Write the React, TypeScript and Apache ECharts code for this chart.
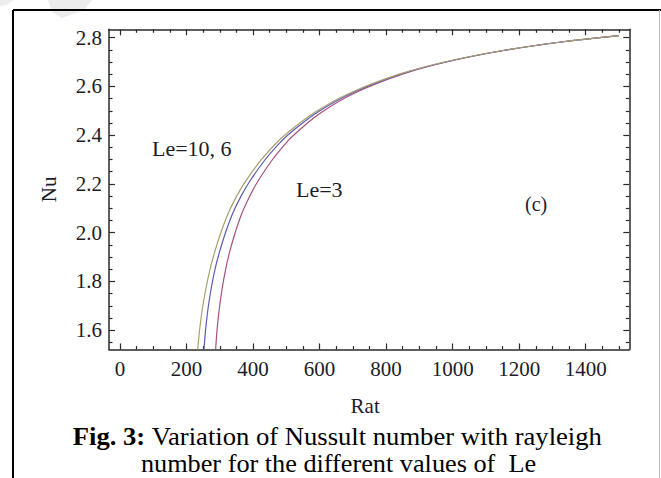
import React, { useEffect, useRef } from "react";
import * as echarts from "echarts";

// Nu sample levels shared by the three curves
const nuLevels = [1.521, 1.601, 1.683, 1.765, 1.85, 1.918, 2.002, 2.082, 2.152, 2.207, 2.295, 2.372, 2.407, 2.494, 2.573, 2.651, 2.702, 2.747, 2.781, 2.808];
// Rat at each Nu level, Le = 10 (olive)
const ratLe10 = [233.6, 239.3, 247.1, 257.4, 270.6, 284.1, 303.7, 326.2, 351.8, 375.8, 422.4, 473, 501, 586, 692, 842, 982, 1150, 1320, 1500];
// Rat at each Nu level, Le = 6 (blue)
const ratLe6 = [252.6, 257.3, 264.1, 273.4, 285.6, 298.6, 317.7, 339.7, 364.8, 388.3, 433.9, 483, 510, 593.5, 698, 846, 985, 1152, 1321, 1500];
// Rat at each Nu level, Le = 3 (maroon)
const ratLe3 = [287.6, 291.8, 298.1, 306.4, 317.6, 329.1, 346.7, 367.2, 390.8, 412.8, 455.9, 502, 527.5, 606, 706, 851, 988, 1153.5, 1321.5, 1500];

const xMajorTicks = [0, 200, 400, 600, 800, 1000, 1200, 1400];
const xMinorTicks = [50, 100, 150, 250, 300, 350, 450, 500, 550, 650, 700, 750, 850, 900, 950, 1050, 1100, 1150, 1250, 1300, 1350, 1450, 1500];
const yMajorTicks = [1.6, 1.8, 2.0, 2.2, 2.4, 2.6, 2.8];
const yMinorTicks = [1.55, 1.65, 1.7, 1.75, 1.85, 1.9, 1.95, 2.05, 2.1, 2.15, 2.25, 2.3, 2.35, 2.45, 2.5, 2.55, 2.65, 2.7, 2.75];

const X_MIN = -33;
const X_MAX = 1531;
const Y_MIN = 1.521;
const Y_MAX = 2.834;

const FONT = "'Liberation Serif', 'Times New Roman', serif";
const TXT = "#1c1c28";
const AXIS = "#2a2a2a";

const zip = (xs: number[], ys: number[]) => xs.map((x, i) => [x, ys[i]]);

export default function App() {
  const ref = useRef<HTMLDivElement>(null);
  useEffect(() => {
    if (!ref.current) return;
    const chart = echarts.init(ref.current, null, { renderer: "svg" });
    const xBase = (position: string, major: boolean, labels: boolean) => ({
      type: "value",
      position,
      min: X_MIN,
      max: X_MAX,
      splitLine: { show: false },
      axisLine: { show: major, onZero: false, lineStyle: { color: AXIS, width: 1.5 } },
      axisTick: {
        show: true,
        inside: true,
        length: major ? 6 : 3.5,
        customValues: major ? xMajorTicks : xMinorTicks,
        lineStyle: { color: AXIS, width: 1.2 },
      },
      axisLabel: labels
        ? {
            show: true,
            customValues: xMajorTicks,
            margin: 9,
            fontFamily: FONT,
            fontSize: 21,
            color: TXT,
            formatter: (v: number) => String(Math.round(v)),
          }
        : { show: false },
    });
    const yBase = (position: string, major: boolean, labels: boolean) => ({
      type: "value",
      position,
      min: Y_MIN,
      max: Y_MAX,
      splitLine: { show: false },
      axisLine: { show: major, onZero: false, lineStyle: { color: AXIS, width: 1.5 } },
      axisTick: {
        show: true,
        inside: true,
        length: major ? 6 : 3.5,
        customValues: major ? yMajorTicks : yMinorTicks,
        lineStyle: { color: AXIS, width: 1.2 },
      },
      axisLabel: labels
        ? {
            show: true,
            customValues: yMajorTicks,
            margin: 7,
            fontFamily: FONT,
            fontSize: 21,
            color: TXT,
            formatter: (v: number) => v.toFixed(1),
          }
        : { show: false },
    });
    const xAxes: any[] = [
      {
        ...xBase("bottom", true, true),
        name: "Rat",
        nameLocation: "middle",
        nameGap: 46,
        nameTextStyle: { fontFamily: FONT, fontSize: 21, color: TXT, padding: [0, 8, 0, 0] },
      },
      xBase("bottom", false, false),
      xBase("top", true, false),
      xBase("top", false, false),
    ];
    const yAxes: any[] = [
      {
        ...yBase("left", true, true),
        name: "Nu",
        nameLocation: "middle",
        nameGap: 50,
        nameTextStyle: { fontFamily: FONT, fontSize: 21, color: TXT, fontWeight: "normal" },
      },
      yBase("left", false, false),
      yBase("right", true, false),
      yBase("right", false, false),
    ];
    const mk = (name: string, xs: number[], color: string) => ({
      type: "line",
      name,
      xAxisIndex: 0,
      yAxisIndex: 0,
      data: zip(xs, nuLevels),
      showSymbol: false,
      symbol: "none",
      smooth: 0.4,
      clip: true,
      lineStyle: { color, width: 1.2 },
      z: 3,
    });
    chart.setOption({
      animation: false,
      backgroundColor: "#ffffff",
      grid: { left: 109, top: 29.3, right: 31.7, bottom: 128.5, containLabel: false },
      xAxis: xAxes,
      yAxis: yAxes,
      series: [
        mk("Le=3", ratLe3, "#a8507a"),
        mk("Le=6", ratLe6, "#5c5cb4"),
        mk("Le=10", ratLe10, "#aaa06c"),
      ],
      graphic: [
        { type: "polygon", shape: { points: [[0, 0], [14, 0], [6, 5], [0, 6]] }, style: { fill: "#ececec" }, z: -1 },
        { type: "polygon", shape: { points: [[48, 0], [92, 0], [84, 10], [62, 18], [52, 12]] }, style: { fill: "#ececec" }, z: -1 },
        { type: "line", shape: { x1: 13, y1: 10, x2: 661, y2: 10 }, style: { stroke: "#000", lineWidth: 2 } },
        { type: "line", shape: { x1: 13, y1: 10, x2: 13, y2: 478 }, style: { stroke: "#000", lineWidth: 2 } },
        { type: "line", shape: { x1: 659.5, y1: 10, x2: 659.5, y2: 478 }, style: { stroke: "#b8b8b8", lineWidth: 1 } },
        {
          type: "text",
          left: 152,
          top: 137,
          style: { text: "Le=10, 6", fontFamily: FONT, fontSize: 22, fill: TXT },
        },
        {
          type: "text",
          left: 296,
          top: 178,
          style: { text: "Le=3", fontFamily: FONT, fontSize: 22, fill: TXT },
        },
        {
          type: "text",
          left: 525,
          top: 194,
          style: { text: "(c)", fontFamily: FONT, fontSize: 20, fill: TXT },
        },
        {
          type: "text",
          x: 337.5,
          y: 437,
          scaleX: 1.065,
          style: {
            text: "{b|Fig. 3:} Variation of Nussult number with rayleigh",
            fontFamily: FONT,
            fontSize: 25,
            fill: "#000",
            align: "center",
            verticalAlign: "middle",
            rich: { b: { fontFamily: FONT, fontSize: 25, fontWeight: "bold", fill: "#000" } },
          },
        },
        {
          type: "text",
          x: 338.5,
          y: 463.5,
          scaleX: 1.05,
          style: {
            text: "number for the different values of  Le",
            fontFamily: FONT,
            fontSize: 25,
            fill: "#000",
            align: "center",
            verticalAlign: "middle",
          },
        },
      ],
    });
    return () => chart.dispose();
  }, []);
  return (
    <div
      ref={ref}
      style={{ position: "fixed", left: 0, top: 0, width: 661, height: 478, background: "#fff" }}
    />
  );
}
